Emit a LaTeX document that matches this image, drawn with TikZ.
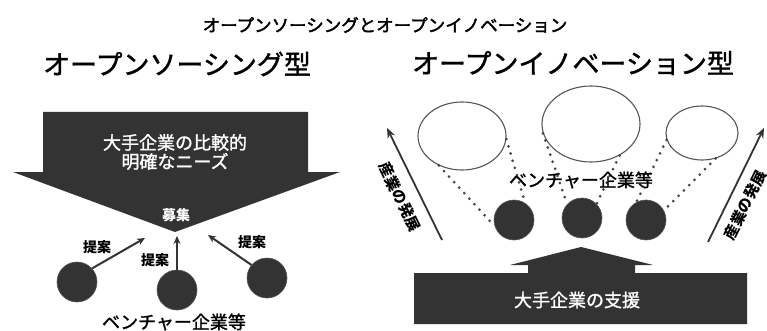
\documentclass[tikz,border=0pt]{standalone}
\usepackage{fontspec}
\setmainfont{Noto Sans CJK JP}
\newfontfamily\jp[RawFeature={embolden=1.3}]{Noto Sans CJK JP}
\newfontfamily\jpt[RawFeature={embolden=2.2}]{Noto Sans CJK JP}
\newfontfamily\jpb{Noto Sans CJK JP}
\usetikzlibrary{arrows.meta,shapes.geometric}
\definecolor{dk}{HTML}{333333}
\definecolor{ol}{HTML}{555555}
\definecolor{dotc}{HTML}{444444}
\tikzset{
  darkshape/.style={fill=dk, draw=none},
  blob/.style={circle, fill=dk, draw=ol, line width=0.6pt, minimum size=40pt, inner sep=0pt},
  bubble/.style={ellipse, draw=ol, line width=1.1pt, inner sep=0pt},
  dotline/.style={draw=dotc, line width=3pt, line cap=round, dash pattern=on 0pt off 7.5pt},
  propose/.style={draw=dk, line width=2pt, -{Stealth[length=8pt,width=7pt]}},
  growth/.style={draw=dk, line width=1.8pt, -{Stealth[length=10pt,width=8pt]}},
  wtext/.style={text=white, font=\jp\fontsize{18}{21}\selectfont, align=center},
  btext/.style={text=black, font=\jpb\bfseries\fontsize{14}{16}\selectfont},
}
\begin{document}
\begin{tikzpicture}[x=1pt,y=-1pt]
\useasboundingbox (0,0) rectangle (767,331);
% titles
\node (title) at (385,25) {\jpt\fontsize{17.5}{20}\selectfont オープンソーシングとオープンイノベーション};
\node (hl) at (177,64) {\jp\fontsize{27}{30}\selectfont オープンソーシング型};
\node (hr) at (573,63) {\jp\fontsize{27}{30}\selectfont オープンイノベーション型};
% left big arrow
\path[darkshape] (43,112) -- (308,112) -- (308,172) -- (340,172) -- (175,232) -- (13,172) -- (43,172) -- cycle;
\node[wtext] (needs) at (175,152) {大手企業の比較的\\[-2pt]明確なニーズ};
\node[text=white, font=\jpb\bfseries\fontsize{14}{16}\selectfont] (bosyu) at (176,215) {募集};
% left circles
\node[blob] (l1) at (77,282) {};
\node[blob] (l2) at (177,290) {};
\node[blob] (l3) at (267,278) {};
\coordinate (t1) at (145,238);
\coordinate (t2) at (177,236);
\coordinate (t3) at (208,235);
\draw[propose] (l1.42) -- (t1);
\draw[propose] (l2.north) -- (t2);
\draw[propose] (l3.140) -- (t3);
\node[btext] (p1) at (97,247) {提案};
\node[btext] (p2) at (155,260) {提案};
\node[btext] (p3) at (252,242) {提案};
\node (vl) at (174,322) {\jp\fontsize{18}{20}\selectfont ベンチャー企業等};
% right: bubbles
\node[bubble, minimum width=88pt, minimum height=68pt] (e1) at (462,136) {};
\node[bubble, minimum width=98pt, minimum height=76pt] (e2) at (591,124) {};
\node[bubble, minimum width=72pt, minimum height=54pt] (e3) at (702,133) {};
\node[blob] (c1) at (514,220) {};
\node[blob] (c2) at (582,218) {};
\node[blob] (c3) at (646,220) {};
\draw[dotline] (e1.232) -- (c1.198);
\draw[dotline] (e1.356) -- (c1.57);
\draw[dotline] (e2.191) -- (c2.137);
\draw[dotline] (e2.312) -- (c2.44);
\draw[dotline] (e3.191) -- (c3.119);
\draw[dotline] (e3.298) -- (c3.28);
\node (vr) at (581,180) {\jp\fontsize{18}{20}\selectfont ベンチャー企業等};
% side arrows
\coordinate (ga) at (442,240);
\coordinate (gb) at (387,128);
\coordinate (gc) at (708,242);
\coordinate (gd) at (764,128);
\draw[growth] (ga) -- (gb);
\draw[growth] (gc) -- (gd);
\node[btext, rotate=-63.8, inner sep=0pt, font=\jpb\bfseries\fontsize{15}{16}\selectfont] (s1) at (400,197) {産業の発展};
\node[btext, rotate=63.8, inner sep=0pt, font=\jpb\bfseries\fontsize{15}{16}\selectfont] (s2) at (745,205) {産業の発展};
% bottom up arrow
\path[darkshape] (414,273) -- (528,273) -- (528,265) -- (510,265) -- (581,247) -- (653,265) -- (635,265) -- (635,273) -- (747,273) -- (747,324) -- (414,324) -- cycle;
\node[wtext] (support) at (577,300) {大手企業の支援};
\end{tikzpicture}
\end{document}
